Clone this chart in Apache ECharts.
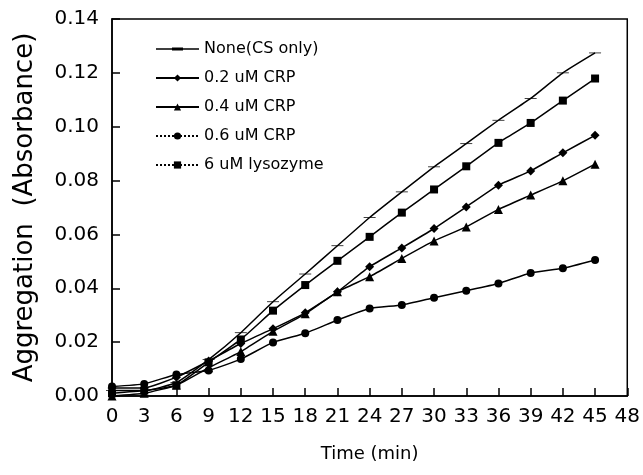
<!DOCTYPE html>
<html>
<head>
<meta charset="utf-8">
<script src="https://cdn.jsdelivr.net/npm/echarts@6/dist/echarts.min.js"></script>
<style>
  html, body { margin: 0; padding: 0; background: #fff; }
  #chart { width: 643px; height: 475px; }
</style>
</head>
<body>
<div id="chart"></div>
<script>
const times = [0, 3, 6, 9, 12, 15, 18, 21, 24, 27, 30, 33, 36, 39, 42, 45];

const noneCS = [0.002, 0.002, 0.005, 0.0135, 0.0235, 0.035, 0.0453, 0.0558, 0.0663, 0.0758, 0.0851, 0.0937, 0.1024, 0.1105, 0.120, 0.1274];
const crp02 = [0.003, 0.003, 0.007, 0.013, 0.0195, 0.025, 0.0309, 0.0387, 0.048, 0.055, 0.0622, 0.0702, 0.0783, 0.0836, 0.0903, 0.0968];
const crp04 = [0.000, 0.001, 0.004, 0.0105, 0.0165, 0.024, 0.0305, 0.0387, 0.0443, 0.0511, 0.0576, 0.0628, 0.0693, 0.0746, 0.0799, 0.0861];
const crp06 = [0.0035, 0.0045, 0.008, 0.0095, 0.0137, 0.0199, 0.0233, 0.0282, 0.0325, 0.0338, 0.0365, 0.0391, 0.0418, 0.0457, 0.0474, 0.0505];
const lysozyme = [0.001, 0.002, 0.004, 0.0125, 0.021, 0.0317, 0.0412, 0.0502, 0.0591, 0.0681, 0.0767, 0.0853, 0.094, 0.1014, 0.1097, 0.1179];

const seriesNames = ['None(CS only)', '0.2 uM CRP', '0.4 uM CRP', '0.6 uM CRP', '6 uM lysozyme'];

const FONT = 'DejaVu Sans';
// flat dash marker used by the "None" series
const DASH = 'path://M0,0 L12,0 L12,3 L0,3 Z';
// legend icon for "None": thin line with the dash in the middle (M points only set the box)
const DASH_ICON = 'path://M0,0 M43,9 M0,3.8 L43,3.8 L43,5.2 L0,5.2 Z M16,3 L27,3 L27,6 L16,6 Z';

const pairs = (ys) => times.map((t, i) => [t, ys[i]]);

const makeSeries = (name, ys, symbol, symbolSize) => ({
  name,
  type: 'line',
  data: pairs(ys),
  smooth: 0.15,
  symbol,
  symbolSize,
  symbolKeepAspect: true,
  showAllSymbol: true,
  lineStyle: { color: '#000', width: 1.5 },
  itemStyle: { color: '#000' },
  animation: false
});

const chart = echarts.init(document.getElementById('chart'));

chart.setOption({
  backgroundColor: '#fff',
  grid: {
    left: 112,
    right: 11,
    top: 19,
    bottom: 79,
    show: true,
    borderColor: '#000',
    borderWidth: 1.5
  },
  legend: {
    orient: 'vertical',
    left: 155,
    top: 41,
    padding: 0,
    itemWidth: 43,
    itemHeight: 9,
    itemGap: 13,
    textStyle: { fontFamily: FONT, fontSize: 16, color: '#000' },
    data: [
      { name: seriesNames[0], icon: DASH_ICON },
      { name: seriesNames[1] },
      { name: seriesNames[2] },
      { name: seriesNames[3], lineStyle: { type: 'dotted' } },
      { name: seriesNames[4], lineStyle: { type: 'dotted' } }
    ]
  },
  xAxis: {
    type: 'value',
    min: 0,
    max: 48,
    interval: 3,
    name: 'Time (min)',
    nameLocation: 'middle',
    nameGap: 49,
    nameTextStyle: { fontFamily: FONT, fontSize: 18, color: '#000' },
    axisLine: { lineStyle: { color: '#000', width: 1.5 } },
    axisTick: { inside: true, length: 8, lineStyle: { color: '#000', width: 1.5 } },
    axisLabel: { fontFamily: FONT, fontSize: 20, color: '#000', margin: 11 },
    splitLine: { show: false }
  },
  yAxis: {
    type: 'value',
    min: 0,
    max: 0.14,
    interval: 0.02,
    name: 'Aggregation  (Absorbance)',
    nameLocation: 'middle',
    nameRotate: 90,
    nameGap: 74,
    nameTextStyle: { fontFamily: FONT, fontSize: 26, color: '#000' },
    axisLine: { lineStyle: { color: '#000', width: 1.5 } },
    axisTick: { inside: true, length: 8, lineStyle: { color: '#000', width: 1.5 } },
    axisLabel: {
      fontFamily: FONT,
      fontSize: 20,
      color: '#000',
      margin: 13,
      formatter: (v) => v.toFixed(2)
    },
    splitLine: { show: false }
  },
  series: [
    makeSeries(seriesNames[0], noneCS, DASH, [12, 3]),
    makeSeries(seriesNames[1], crp02, 'diamond', 9),
    makeSeries(seriesNames[2], crp04, 'triangle', 9),
    makeSeries(seriesNames[3], crp06, 'circle', 8),
    makeSeries(seriesNames[4], lysozyme, 'rect', 8)
  ]
});
</script>
</body>
</html>
